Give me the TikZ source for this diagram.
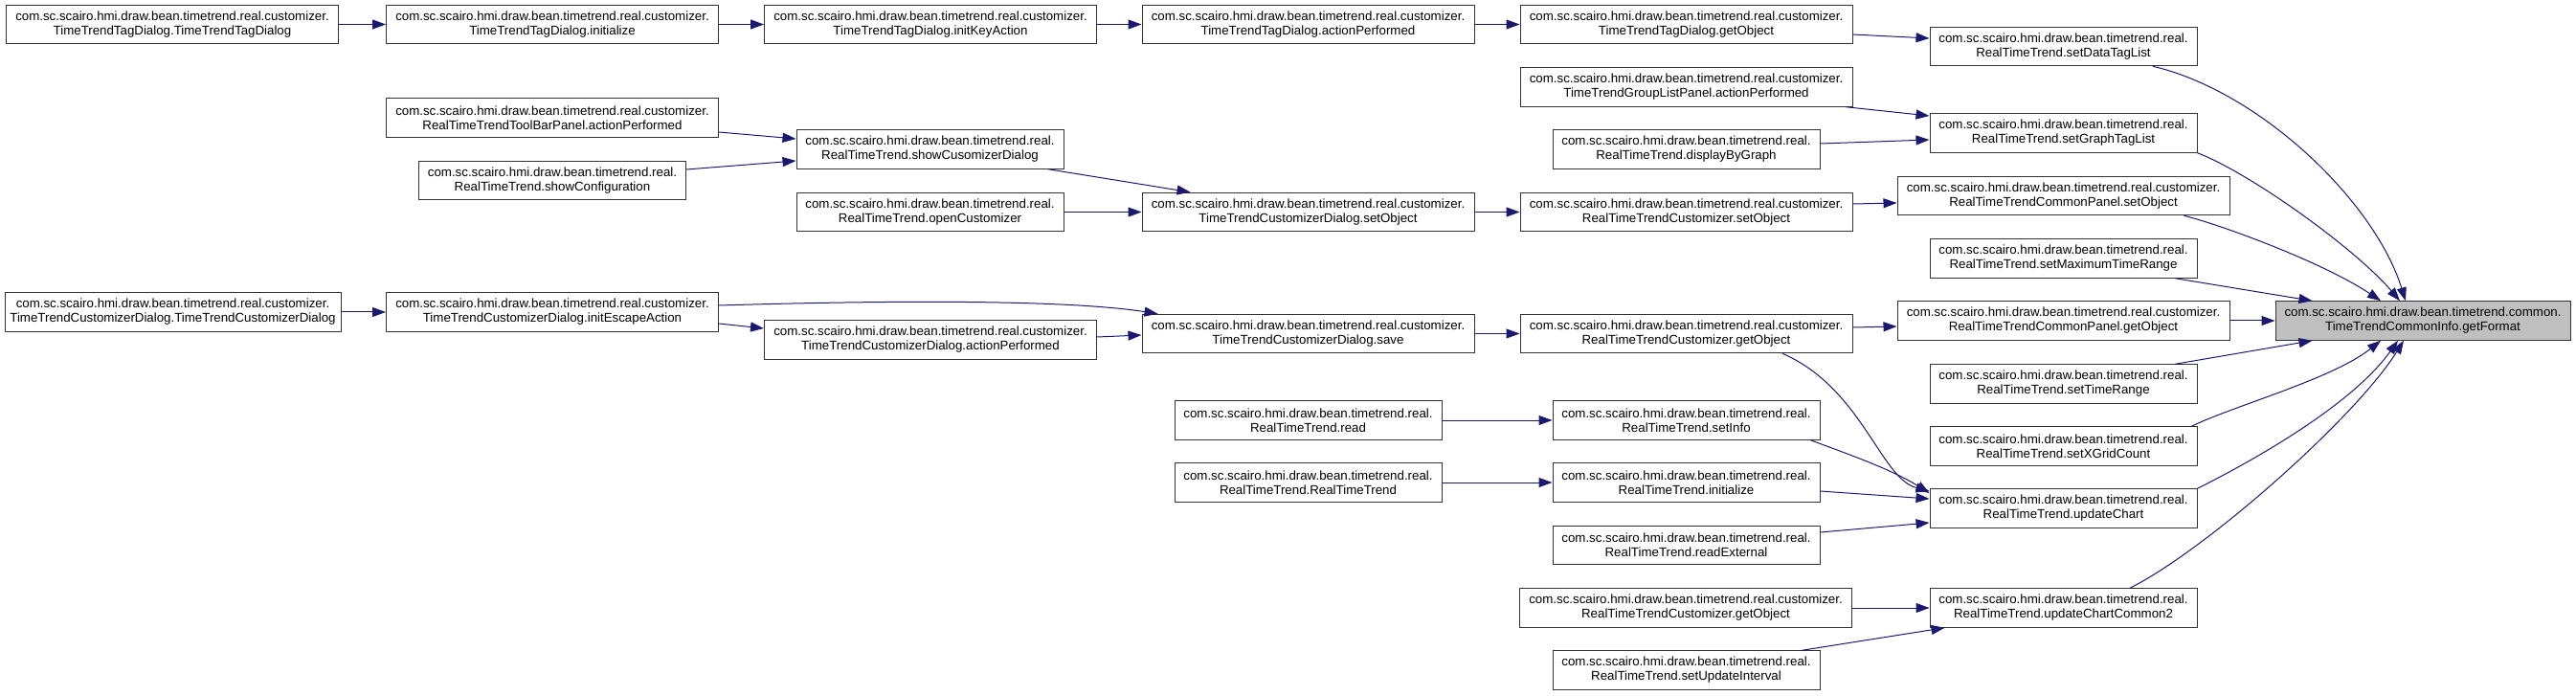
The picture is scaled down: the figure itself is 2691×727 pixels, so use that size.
\documentclass[tikz,border=0pt]{standalone}
\usepackage{fontspec}
\setmainfont{Liberation Sans}
\usepackage{tikz}
\usetikzlibrary{arrows.meta,calc}
\definecolor{midnight}{HTML}{191970}
\tikzset{
  fn/.style={draw=black!80, fill=white, line width=1pt, minimum height=40.5pt,
    inner sep=0pt, align=center, font=\fontsize{13.3}{15}\selectfont},
  fnc/.style={fn, minimum width=347pt},
  fnr/.style={fn, minimum width=279pt},
  call/.style={draw=midnight, line width=1pt, -{Triangle[length=14pt,width=10pt]}}
}
\begin{document}
\begin{tikzpicture}[x=1pt,y=-1pt]
\useasboundingbox (0,0) rectangle (2691,727);
% tag dialog chain
\node[fnc] (tagctor) at (180,25.5) {com.sc.scairo.hmi.draw.bean.timetrend.real.customizer.\\TimeTrendTagDialog.TimeTrendTagDialog};
\node[fnc] (taginit) at (577,25.5) {com.sc.scairo.hmi.draw.bean.timetrend.real.customizer.\\TimeTrendTagDialog.initialize};
\node[fnc] (tagkey) at (972,25.5) {com.sc.scairo.hmi.draw.bean.timetrend.real.customizer.\\TimeTrendTagDialog.initKeyAction};
\node[fnc] (tagact) at (1366.5,25.5) {com.sc.scairo.hmi.draw.bean.timetrend.real.customizer.\\TimeTrendTagDialog.actionPerformed};
\node[fnc] (taggetobj) at (1761.5,25.5) {com.sc.scairo.hmi.draw.bean.timetrend.real.customizer.\\TimeTrendTagDialog.getObject};
\node[fnr] (setdatatag) at (2155.5,48.5) {com.sc.scairo.hmi.draw.bean.timetrend.real.\\RealTimeTrend.setDataTagList};
\node[fnc] (grouplist) at (1761.5,91) {com.sc.scairo.hmi.draw.bean.timetrend.real.customizer.\\TimeTrendGroupListPanel.actionPerformed};
\node[fnr] (setgraphtag) at (2155.5,139) {com.sc.scairo.hmi.draw.bean.timetrend.real.\\RealTimeTrend.setGraphTagList};
\node[fnr] (displaygraph) at (1761.5,156) {com.sc.scairo.hmi.draw.bean.timetrend.real.\\RealTimeTrend.displayByGraph};
% customizer dialog
\node[fnc] (toolbar) at (577,123) {com.sc.scairo.hmi.draw.bean.timetrend.real.customizer.\\RealTimeTrendToolBarPanel.actionPerformed};
\node[fnr] (showconf) at (577,188.5) {com.sc.scairo.hmi.draw.bean.timetrend.real.\\RealTimeTrend.showConfiguration};
\node[fnr] (showcus) at (971.5,156) {com.sc.scairo.hmi.draw.bean.timetrend.real.\\RealTimeTrend.showCusomizerDialog};
\node[fnr] (opencus) at (971.5,221.5) {com.sc.scairo.hmi.draw.bean.timetrend.real.\\RealTimeTrend.openCustomizer};
\node[fnc] (cdsetobj) at (1366.5,221.5) {com.sc.scairo.hmi.draw.bean.timetrend.real.customizer.\\TimeTrendCustomizerDialog.setObject};
\node[fnc] (rtcsetobj) at (1761.5,221.5) {com.sc.scairo.hmi.draw.bean.timetrend.real.customizer.\\RealTimeTrendCustomizer.setObject};
\node[fnc] (cpsetobj) at (2155.5,204.5) {com.sc.scairo.hmi.draw.bean.timetrend.real.customizer.\\RealTimeTrendCommonPanel.setObject};
\node[fnr] (setmaxtime) at (2155.5,270) {com.sc.scairo.hmi.draw.bean.timetrend.real.\\RealTimeTrend.setMaximumTimeRange};
\node[fn, minimum width=351pt] (cdctor) at (180.5,326) {com.sc.scairo.hmi.draw.bean.timetrend.real.customizer.\\TimeTrendCustomizerDialog.TimeTrendCustomizerDialog};
\node[fnc] (escape) at (577,326) {com.sc.scairo.hmi.draw.bean.timetrend.real.customizer.\\TimeTrendCustomizerDialog.initEscapeAction};
\node[fnc] (cdact) at (972,355) {com.sc.scairo.hmi.draw.bean.timetrend.real.customizer.\\TimeTrendCustomizerDialog.actionPerformed};
\node[fnc] (save) at (1366.5,348.5) {com.sc.scairo.hmi.draw.bean.timetrend.real.customizer.\\TimeTrendCustomizerDialog.save};
\node[fnc] (rtcgetobj) at (1761.5,348.5) {com.sc.scairo.hmi.draw.bean.timetrend.real.customizer.\\RealTimeTrendCustomizer.getObject};
\node[fnc] (cpgetobj) at (2155.5,335) {com.sc.scairo.hmi.draw.bean.timetrend.real.customizer.\\RealTimeTrendCommonPanel.getObject};
\node[fn, minimum width=308pt, fill=black!25] (getformat) at (2531,335) {com.sc.scairo.hmi.draw.bean.timetrend.common.\\TimeTrendCommonInfo.getFormat};
\node[fnr] (settimerange) at (2155.5,401) {com.sc.scairo.hmi.draw.bean.timetrend.real.\\RealTimeTrend.setTimeRange};
% update chart
\node[fnr] (read) at (1366.5,439) {com.sc.scairo.hmi.draw.bean.timetrend.real.\\RealTimeTrend.read};
\node[fnr] (setinfo) at (1761.5,439) {com.sc.scairo.hmi.draw.bean.timetrend.real.\\RealTimeTrend.setInfo};
\node[fnr] (setxgrid) at (2155.5,466) {com.sc.scairo.hmi.draw.bean.timetrend.real.\\RealTimeTrend.setXGridCount};
\node[fnr] (rtctor) at (1366.5,504) {com.sc.scairo.hmi.draw.bean.timetrend.real.\\RealTimeTrend.RealTimeTrend};
\node[fnr] (rtinit) at (1761.5,504) {com.sc.scairo.hmi.draw.bean.timetrend.real.\\RealTimeTrend.initialize};
\node[fnr] (updatechart) at (2155.5,531) {com.sc.scairo.hmi.draw.bean.timetrend.real.\\RealTimeTrend.updateChart};
\node[fnr] (readext) at (1761.5,569.5) {com.sc.scairo.hmi.draw.bean.timetrend.real.\\RealTimeTrend.readExternal};
\node[fnc] (rtcgetobj2) at (1761,635) {com.sc.scairo.hmi.draw.bean.timetrend.real.customizer.\\RealTimeTrendCustomizer.getObject};
\node[fnr] (updatecc2) at (2155.5,635) {com.sc.scairo.hmi.draw.bean.timetrend.real.\\RealTimeTrend.updateChartCommon2};
\node[fnr] (setupdint) at (1761.5,700) {com.sc.scairo.hmi.draw.bean.timetrend.real.\\RealTimeTrend.setUpdateInterval};
% calls
\draw[call] (tagctor) -- (taginit);
\draw[call] (taginit) -- (tagkey);
\draw[call] (tagkey) -- (tagact);
\draw[call] (tagact) -- (taggetobj);
\draw[call] ($(taggetobj.east)+(0,10.5)$) -- ($(setdatatag.west)+(0,-8.5)$);
\draw[call] ($(grouplist.south east)+(-7,0)$) -- ($(setgraphtag.west)+(0,-18)$);
\draw[call] ($(displaygraph.east)+(0,-6)$) -- ($(setgraphtag.west)+(0,7)$);
\draw[call] ($(toolbar.east)+(0,15)$) -- ($(showcus.west)+(0,-11)$);
\draw[call] ($(showconf.east)+(0,-11.5)$) -- ($(showcus.west)+(0,12)$);
\draw[call] ($(showcus.south)+(123.5,0)$) -- ($(cdsetobj.north west)+(51,0)$);
\draw[call] (opencus) -- (cdsetobj);
\draw[call] (cdsetobj) -- (rtcsetobj);
\draw[call] ($(rtcsetobj.east)+(0,-8.5)$) -- ($(cpsetobj.west)+(0,7.5)$);
\draw[call] (cdctor) -- (escape);
\draw[call] ($(escape.east)+(0,-7)$) .. controls +(200,-6) and +(-90,-14) .. ($(save.north west)+(17,0)$);
\draw[call] ($(escape.east)+(0,12)$) -- ($(cdact.west)+(0,-12)$);
\draw[call] ($(cdact.east)+(0,-3)$) -- ($(save.west)+(0,1.5)$);
\draw[call] (save) -- (rtcgetobj);
\draw[call] ($(rtcgetobj.east)+(0,-6.5)$) -- ($(cpgetobj.west)+(0,6)$);
\draw[call] ($(rtcgetobj.south)+(100.5,0)$) .. controls +(83,36) and +(-51,-13) .. ($(updatechart.west)+(0,-18)$);
\draw[call] (read) -- (setinfo);
\draw[call] ($(setinfo.south east)+(-10,0)$) .. controls +(40,15) and +(-40,-25) .. ($(updatechart.west)+(0,-16)$);
\draw[call] (rtctor) -- (rtinit);
\draw[call] ($(rtinit.east)+(0,9)$) -- ($(updatechart.west)+(0,-10)$);
\draw[call] ($(readext.east)+(0,-13.5)$) -- ($(updatechart.west)+(0,15)$);
\draw[call] (rtcgetobj2) -- (updatecc2);
\draw[call] ($(setupdint.north east)+(-19,0)$) -- ($(updatecc2.south west)+(16,0)$);
% into getFormat
\draw[call] ($(setdatatag.south)+(93.5,0)$) .. controls +(111,26) and +(-33,-105) .. ($(getformat.north)+(-18,0)$);
\draw[call] (setgraphtag.south east) .. controls +(55,21) and +(-47,-55) .. ($(getformat.north)+(-24,0)$);
\draw[call] ($(cpsetobj.south east)+(-48,0)$) .. controls +(40,10) and +(-60,-40) .. ($(getformat.north)+(-44,0)$);
\draw[call] ($(setmaxtime.south east)+(-23,0)$) -- ($(getformat.north west)+(39,0)$);
\draw[call] (cpgetobj) -- (getformat);
\draw[call] ($(settimerange.north east)+(-23,0)$) -- ($(getformat.south west)+(39,0)$);
\draw[call] ($(setxgrid.north east)+(-6,0)$) .. controls +(40,-20) and +(-50,40) .. ($(getformat.south)+(-44,0)$);
\draw[call] (updatechart.north east) .. controls +(50,-25) and +(-50,70) .. ($(getformat.south)+(-26,0)$);
\draw[call] ($(updatecc2.north)+(69.5,0)$) .. controls +(80,-40) and +(-50,80) .. ($(getformat.south)+(-20,0)$);
\end{tikzpicture}
\end{document}
